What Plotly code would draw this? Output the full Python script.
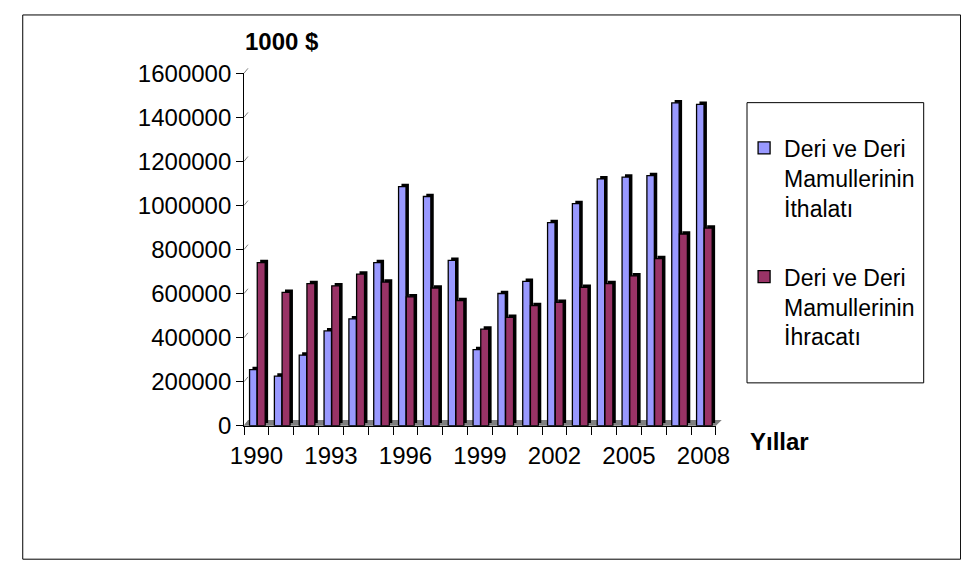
import plotly.graph_objects as go

# ---- data (1000 $) ----
years = list(range(1990, 2009))
imports = [255000, 225000, 320000, 430000, 485000, 740000, 1085000, 1040000, 750000, 345000,
           600000, 655000, 922000, 1008000, 1120000, 1128000, 1135000, 1465000, 1458000]
exports = [740000, 605000, 645000, 635000, 688000, 652000, 585000, 625000, 568000, 438000,
           492000, 545000, 560000, 628000, 645000, 680000, 758000, 870000, 897000]
y_ticks = [0, 200000, 400000, 600000, 800000, 1000000, 1200000, 1400000, 1600000]
x_labels = [1990, 1993, 1996, 1999, 2002, 2005, 2008]
name_imp = "Deri ve Deri<br>Mamullerinin<br>İthalatı"
name_exp = "Deri ve Deri<br>Mamullerinin<br>İhracatı"

# ---- geometry helpers (pixels -> paper) ----
W, H = 961, 576
def px(x):
    return x / W
def py(y):
    return 1 - y / H

FX0, FX1 = 237, 723      # front plane, left/right
FY0, FY1 = 432, 62       # front plane, bottom/top
BX0, BX1 = 241, 729      # back wall, left/right
BY0, BY1 = 427, 57       # back wall, bottom/top
YMAX = 1600000
unit = YMAX / (FY0 - FY1)             # data units per pixel
step = (FX1 - FX0) / len(years)       # pixels per category
depth_x = 3 / step
depth_y = 3 * unit

FONT = "Liberation Sans, Arial, sans-serif"
C_IMP = "#9999FF"
C_EXP = "#993366"

fig = go.Figure()

def add_series(values, color, name, group, off, wid):
    # dark side/top of the bar, shifted back for depth
    fig.add_trace(go.Bar(
        x=years, y=values, base=depth_y, offset=off + depth_x, width=wid,
        marker=dict(color="#000000", line=dict(width=0)),
        xaxis="x2", yaxis="y2", showlegend=False, hoverinfo="skip",
        legendgroup=group,
    ))
    # front face
    fig.add_trace(go.Bar(
        x=years, y=values, offset=off, width=wid, name=name,
        marker=dict(color=color, line=dict(color="#000000", width=1.3)),
        xaxis="x2", yaxis="y2", legendgroup=group,
    ))

add_series(imports, C_IMP, name_imp, "imp", -0.28, 0.30)
add_series(exports, C_EXP, name_exp, "exp", 0.03, 0.32)

shapes = []
# floor of the chart box
shapes.append(dict(
    type="path", xref="paper", yref="paper", layer="below",
    path=(f"M {px(FX0)},{py(FY0)} L {px(FX1)},{py(FY0)} "
          f"L {px(BX1)},{py(BY0 - 1)} L {px(BX0)},{py(BY0 - 1)} Z"),
    fillcolor="#808080", line=dict(width=0),
))
# short diagonals from the front axis ticks to the back wall gridlines
for v in y_ticks:
    yf = FY0 - v / unit
    shapes.append(dict(
        type="line", xref="paper", yref="paper", layer="below",
        x0=px(FX0), y0=py(yf), x1=px(BX0), y1=py(yf - (FY0 - BY0)),
        line=dict(color="#808080", width=1),
    ))
# legend box
shapes.append(dict(
    type="rect", xref="paper", yref="paper",
    x0=px(755), y0=py(387), x1=px(937), y1=py(93),
    line=dict(color="#000000", width=1), fillcolor="rgba(0,0,0,0)",
))
# outer frame
shapes.append(dict(
    type="rect", xref="paper", yref="paper",
    x0=px(9), y0=py(572), x1=px(975), y1=py(1),
    line=dict(color="#000000", width=1), fillcolor="rgba(0,0,0,0)",
))

fig.update_layout(
    width=W, height=H,
    margin=dict(l=0, r=0, t=0, b=0),
    paper_bgcolor="white", plot_bgcolor="rgba(0,0,0,0)",
    barmode="overlay",
    font=dict(family=FONT, size=24, color="#000000"),
    # back wall with gridlines
    xaxis=dict(domain=[px(BX0), px(BX1)], range=[0, 1], anchor="y",
               showline=True, linecolor="#999999", mirror=True,
               showticklabels=False, showgrid=False, zeroline=False, ticks=""),
    yaxis=dict(domain=[py(BY0), py(BY1)], range=[0, YMAX], anchor="x",
               tickvals=y_ticks, showticklabels=False, ticks="",
               showgrid=True, gridcolor="#404040", gridwidth=1,
               showline=True, linecolor="#999999", mirror=True, zeroline=False),
    # front data axes
    xaxis2=dict(domain=[px(FX0), px(FX1)], range=[1989.5, 2008.5], anchor="y2",
                showline=True, linecolor="#000000", linewidth=1,
                tickvals=x_labels, ticktext=[str(v) for v in x_labels],
                ticks="outside", ticklen=8, tickcolor="rgba(0,0,0,0)",
                minor=dict(tickvals=[y - 0.5 for y in years] + [years[-1] + 0.5],
                           ticks="outside", ticklen=8, tickcolor="#000000"),
                tickfont=dict(size=24), showgrid=False, zeroline=False),
    yaxis2=dict(domain=[py(FY0), py(FY1)], range=[0, YMAX], anchor="x2",
                showline=True, linecolor="#000000", linewidth=1,
                tickvals=y_ticks, ticktext=[str(v) for v in y_ticks],
                ticks="outside", ticklen=7, tickcolor="#000000",
                tickfont=dict(size=24), showgrid=False, zeroline=False),
    legend=dict(x=px(752), y=py(118), xanchor="left", yanchor="top",
                font=dict(size=23), valign="top", traceorder="grouped",
                tracegroupgap=36, bgcolor="rgba(0,0,0,0)", borderwidth=0),
    shapes=shapes,
    annotations=[
        dict(text="<b>1000 $</b>", xref="paper", yref="paper",
             x=px(236), y=py(29), xanchor="left", yanchor="middle",
             showarrow=False, font=dict(size=24)),
        dict(text="<b>Yıllar</b>", xref="paper", yref="paper",
             x=px(756), y=py(448), xanchor="left", yanchor="middle",
             showarrow=False, font=dict(size=24)),
    ],
)

fig.write_html("out.html")
